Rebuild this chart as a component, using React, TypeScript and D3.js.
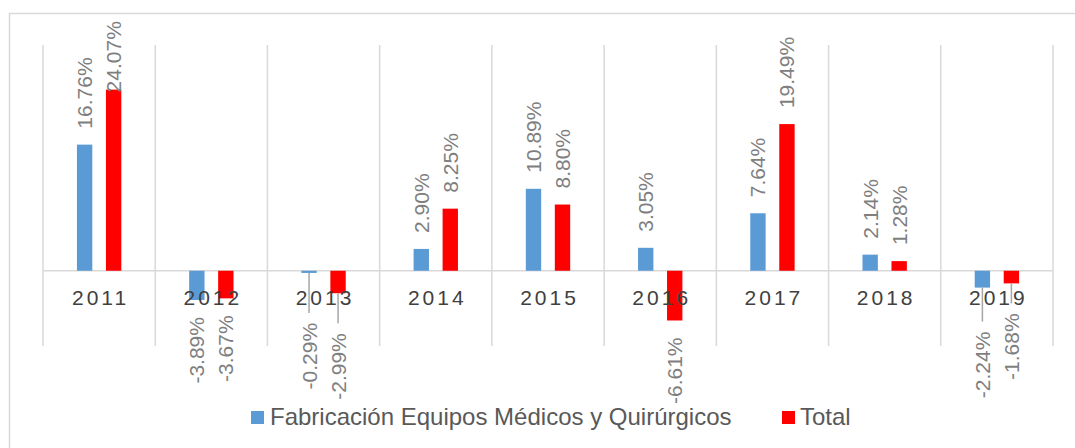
import * as d3 from "d3";

const years = ["2011", "2012", "2013", "2014", "2015", "2016", "2017", "2018", "2019"];
const equipos = [16.76, -3.89, -0.29, 2.9, 10.89, 3.05, 7.64, 2.14, -2.24];
const total = [24.07, -3.67, -2.99, 8.25, 8.8, -6.61, 19.49, 1.28, -1.68];
const seriesNames = ["Fabricación Equipos Médicos y Quirúrgicos", "Total"];
const colors = ["#5b9bd5", "#ff0000"];

// labels that were dragged down in the original to clear the year labels
const nudge: Record<string, number>[] = [
  { "2013": 33, "2019": 27 },
  { "2013": 23, "2019": 13 },
];

const W = 1075, H = 448;
const FONT = "'Liberation Sans', Arial, sans-serif";

export default function App() {
  const x = d3.scaleBand().domain(years).range([43, 1053]).paddingInner(0).paddingOuter(0);
  const inner = d3.scaleBand().domain(["0", "1"]).range([0, x.bandwidth()])
    .paddingInner(0.47).paddingOuter(1.17);
  const y = d3.scaleLinear().domain([-10, 30]).range([346, 45]);
  const y0 = y(0);
  const all = [equipos, total];

  return (
    <svg width={W} height={H} style={{ position: "absolute", left: 0, top: 0, background: "#fff" }}
      fontFamily={FONT}>
      <rect x={9.5} y={13.5} width={1100} height={500} fill="#fff" stroke="#d9d9d9" strokeWidth={1.5} />
      {/* vertical gridlines */}
      {[...years.map((d) => x(d)!), 1053].map((gx, i) => (
        <line key={i} x1={gx} x2={gx} y1={y(30)} y2={y(-10)} stroke="#d9d9d9" strokeWidth={1.5} />
      ))}
      <line x1={43} x2={1053} y1={y0} y2={y0} stroke="#d9d9d9" strokeWidth={1.5} />

      {all.map((vals, s) => (
        <g key={s}>
          {vals.map((v, i) => {
            const bx = x(years[i])! + inner(String(s))!;
            return (
              <rect key={i} x={bx} width={inner.bandwidth()} y={Math.min(y(v), y0)}
                height={Math.abs(y(v) - y0)} fill={colors[s]} />
            );
          })}
        </g>
      ))}

      {/* year labels */}
      {years.map((d) => (
        <text key={d} x={x(d)! + x.bandwidth() / 2 + 1.5} y={305} textAnchor="middle"
          fontSize={21} letterSpacing={3} fill="#404040">{d}</text>
      ))}

      {/* data labels */}
      {all.map((vals, s) => (
        <g key={s}>
          {vals.map((v, i) => {
            const cx = x(years[i])! + inner(String(s))! + inner.bandwidth() / 2;
            const label = v.toFixed(2) + "%";
            if (v >= 0) {
              const textLen = label.length * 11.9;
              let start = y(v) - 16;
              if (start - textLen < 21) start = 21 + textLen;
              return (
                <text key={i} transform={`translate(${cx},${start}) rotate(-90)`} textAnchor="start"
                  dominantBaseline="central" fontSize={21} fill="#7f7f7f">{label}</text>
              );
            }
            const n = nudge[s][years[i]] || 0;
            const top = y(v) + 17 + n;
            return (
              <g key={i}>
                {n > 0 && (
                  <line x1={cx} x2={cx} y1={y(v)} y2={top - 10} stroke="#a6a6a6" strokeWidth={1.5} />
                )}
                <text transform={`translate(${cx},${top}) rotate(-90)`} textAnchor="end"
                  dominantBaseline="central" fontSize={21} fill="#7f7f7f">{label}</text>
              </g>
            );
          })}
        </g>
      ))}

      {/* legend */}
      <rect x={251} y={411} width={13} height={13} fill={colors[0]} />
      <text x={270} y={425} fontSize={24} fill="#595959">{seriesNames[0]}</text>
      <rect x={782} y={411} width={13} height={13} fill={colors[1]} />
      <text x={800} y={425} fontSize={24} fill="#595959">{seriesNames[1]}</text>
    </svg>
  );
}
